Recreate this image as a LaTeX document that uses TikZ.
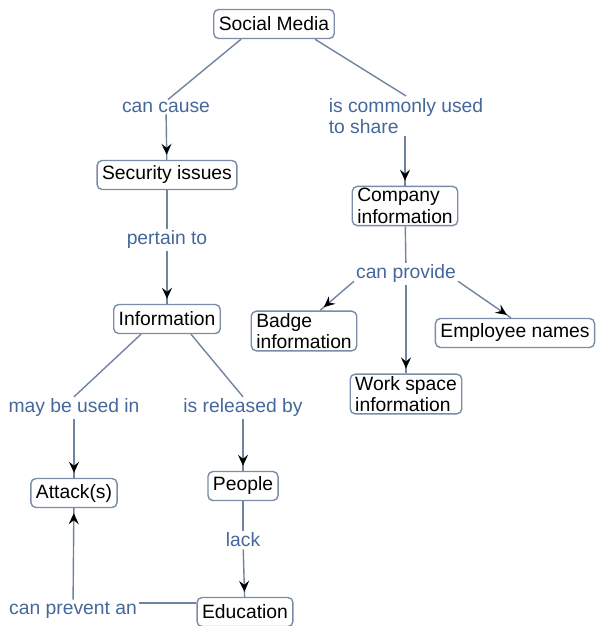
\documentclass[tikz,border=0pt]{standalone}
\usepackage{fontspec}
\setmainfont{Liberation Sans}
\usetikzlibrary{arrows.meta,decorations.markings}
\definecolor{boxcol}{HTML}{7A8CA6}
\definecolor{linecol}{HTML}{7084A0}
\definecolor{labcol}{HTML}{46679A}
\tikzset{
  concept/.style={draw=boxcol, line width=1.4pt, rounded corners=5pt, fill=white,
    inner xsep=5pt, inner ysep=2pt, minimum height=29pt, align=left,
    font=\fontsize{19.3}{21.5}\selectfont, text=black},
  lbl/.style={inner sep=2pt, align=left, text=labcol, font=\fontsize{19.3}{21.5}\selectfont},
  link/.style={draw=linecol, line width=1.4pt},
  arr/.style={postaction={decorate}, decoration={markings,
    mark=at position -5pt with {\arrow[black]{Stealth[length=11pt,width=10pt,inset=4pt]}}}}
}
\begin{document}
\begin{tikzpicture}[x=1pt,y=-1pt]
\useasboundingbox (0,0) rectangle (595,626);
% concepts
\node[concept] (sm) at (274,24) {Social Media};
\node[concept] (sec) at (167,175) {Security issues};
\node[concept] (inf) at (167,319) {Information};
\node[concept] (att) at (74,493) {Attack(s)};
\node[concept] (peo) at (243,486) {People};
\node[concept] (edu) at (245,612) {Education};
\node[concept] (com) at (405,206) {Company\\information};
\node[concept] (bad) at (304,331) {Badge\\information};
\node[concept] (emp) at (515,333) {Employee names};
\node[concept] (wsi) at (406,394) {Work space\\information};
% labels
\node[lbl] (cc) at (166,107) {can cause};
\node[lbl] (icu) at (406,116) {is commonly used\\to share};
\node[lbl] (pt) at (167,240) {pertain to};
\node[lbl] (mbu) at (74,408) {may be used in};
\node[lbl] (irb) at (243,408) {is released by};
\node[lbl] (lack) at (243,540) {lack};
\node[lbl] (cpa) at (73,610) {can prevent an};
\node[lbl] (cp) at (406,274) {can provide};
% connectors
\draw[link] ([xshift=28pt]sm.south west) -- ([xshift=2pt]cc.north);
\draw[link,arr] (cc) -- (sec);
\draw[link] ([xshift=-20pt]sm.south east) -- (icu.north);
\draw[link,arr] (icu.south -| com.north) -- (com);
\draw[link] (sec) -- (pt);
\draw[link,arr] (pt) -- (inf);
\draw[link] ([xshift=28pt]inf.south west) -- (mbu.north);
\draw[link] ([xshift=-30pt]inf.south east) -- (irb.north);
\draw[link,arr] (mbu) -- (att);
\draw[link,arr] (irb) -- (peo);
\draw[link] (peo) -- (lack);
\draw[link,arr] (lack) -- (edu);
\draw[link] ([yshift=9pt]edu.west) -- ([yshift=9pt]edu.west -| cpa.east);
\draw[link,arr] (cpa) -- (att);
\draw[link] (com) -- (cp);
\draw[link,arr] (cp.188) -- ([xshift=16pt]bad.north);
\draw[link,arr] (cp) -- (wsi);
\draw[link,arr] (cp.-8) -- ([xshift=-4pt]emp.north);
\end{tikzpicture}
\end{document}
